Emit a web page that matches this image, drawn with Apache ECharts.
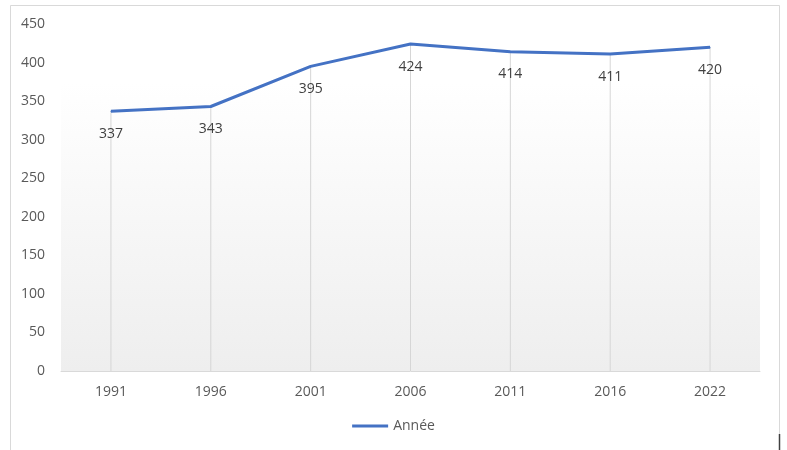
<!DOCTYPE html>
<html><head><meta charset="utf-8">
<script src="https://cdn.jsdelivr.net/npm/echarts@6/dist/echarts.min.js"></script>
<style>html,body{margin:0;padding:0;background:#fff}#c{width:787px;height:450px}</style>
</head><body><div id="c"></div>
<script>
var categories = ['1991','1996','2001','2006','2011','2016','2022'];
var values = [337, 343, 395, 424, 414, 411, 420];
var seriesName = 'Année';

var chart = echarts.init(document.getElementById('c'), null, {renderer:'canvas'});
chart.setOption({
  animation: false,
  backgroundColor: '#fff',
  textStyle: {fontFamily: 'Open Sans, Noto Sans, sans-serif'},
  graphic: [
    {type:'rect', shape:{x:10.5,y:5.5,width:769,height:460}, style:{fill:'none', stroke:'#d9d9d9', lineWidth:1}, silent:true, z:-1},
    {type:'line', shape:{x1:779.5,y1:434,x2:779.5,y2:450}, style:{stroke:'#404040', lineWidth:1.5}, silent:true}
  ],
  grid: {left:61, right:27, top:24, bottom:79, show:true, borderWidth:0,
    backgroundColor: {type:'linear', x:0, y:0, x2:0, y2:1, colorStops:[
      {offset:0, color:'#ffffff'}, {offset:0.17, color:'#ffffff'}, {offset:1, color:'#eeeeee'}]}},
  legend: {bottom:12, left:'center', data:[seriesName], itemWidth:36, itemHeight:3, itemGap:4,
    icon:'rect', textStyle:{color:'#595959', fontSize:14}},
  xAxis: {type:'category', data:categories, boundaryGap:true,
    axisLine:{show:true, lineStyle:{color:'#d9d9d9', width:1}},
    axisTick:{show:false}, splitLine:{show:false},
    axisLabel:{color:'#595959', fontSize:14, margin:14}},
  yAxis: {type:'value', min:0, max:450, interval:50,
    axisLine:{show:false}, axisTick:{show:false}, splitLine:{show:false},
    axisLabel:{color:'#595959', fontSize:14, margin:16}},
  series: [
    {name:'drop', type:'bar', data:values, barWidth:1, silent:true,
     itemStyle:{color:'#d6d6d6'}, z:1, legendHoverLink:false},
    {name:seriesName, type:'line', data:values, showSymbol:true, symbol:'circle', symbolSize:1,
     lineStyle:{color:'#4472C4', width:3}, itemStyle:{color:'#4472C4'}, z:3,
     label:{show:true, position:'bottom', distance:15, color:'#404040', fontSize:14}}
  ]
});
</script></body></html>
